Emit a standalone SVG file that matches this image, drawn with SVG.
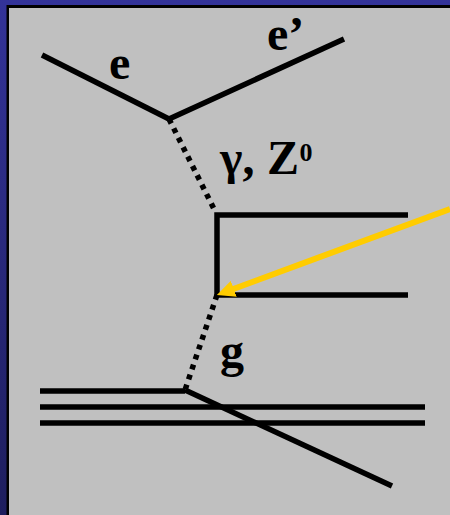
<svg xmlns="http://www.w3.org/2000/svg" width="450" height="515" viewBox="0 0 450 515">
  <defs>
    <linearGradient id="bg" x1="0" y1="0" x2="0" y2="1">
      <stop offset="0" stop-color="#333399"/>
      <stop offset="1" stop-color="#1e1e5e"/>
    </linearGradient>
    <marker id="arrow" viewBox="0 0 18 17" refX="4" refY="8.5" markerWidth="18" markerHeight="17" markerUnits="userSpaceOnUse" orient="auto">
      <path d="M0,0 L18,8.5 L0,17 Z" fill="#FFCC00"/>
    </marker>
  </defs>
  <style>
    .ln { stroke: #000; stroke-width: 5.5; fill: none; stroke-linecap: butt; }
    .dot { stroke: #000; stroke-width: 5.5; fill: none; stroke-dasharray: 5 5.5; }
    .lbl { font-family: "Liberation Serif", "Times New Roman", serif; font-weight: bold; font-size: 48px; fill: #000; }
    .sup { font-size: 26px; }
  </style>
  <rect x="0" y="0" width="450" height="515" fill="url(#bg)"/>
  <rect x="6.5" y="5" width="443.5" height="510" fill="#000"/>
  <rect x="9" y="8" width="441" height="507" fill="#C0C0C0"/>

  <g id="connectors">
    <line id="e-in" class="ln" x1="42" y1="55" x2="169" y2="119"/>
    <line id="e-out" class="ln" x1="169" y1="119" x2="344" y2="39"/>
    <line id="boson" class="dot" x1="169" y1="119" x2="216" y2="213"/>
    <path id="quark-box" class="ln" d="M408,215 H217 V295 H408"/>
    <line id="gluon" class="dot" x1="217" y1="295" x2="185" y2="390"/>
    <line id="proton-1" class="ln" x1="40" y1="391" x2="185" y2="391"/>
    <line id="proton-2" class="ln" x1="40" y1="407" x2="425" y2="407"/>
    <line id="proton-3" class="ln" x1="40" y1="423" x2="425" y2="423"/>
    <line id="scattered" class="ln" x1="185" y1="390" x2="392" y2="486"/>
    <line id="pointer" x1="450" y1="209" x2="230" y2="290.2" stroke="#FFCC00" stroke-width="6" marker-end="url(#arrow)"/>
  </g>

  <g id="label-e"><text class="lbl" x="109" y="78.5">e</text></g>
  <g id="label-eprime"><text class="lbl" x="267" y="49.5">e’</text></g>
  <g id="label-boson"><text class="lbl" x="220" y="174">γ, <tspan x="267">Z</tspan><tspan class="sup" x="299.5" y="161">0</tspan></text></g>
  <g id="label-g"><text class="lbl" x="220" y="367">g</text></g>
</svg>
